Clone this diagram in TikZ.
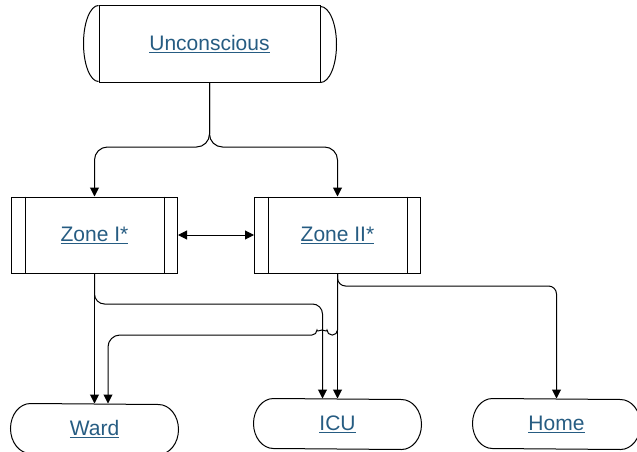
\documentclass[tikz,border=0pt]{standalone}
\usepackage{fontspec}
\setmainfont{Liberation Sans}
\usepackage{tikz}
\usetikzlibrary{arrows.meta}
\definecolor{linkblue}{RGB}{38,92,130}
\newcommand{\linktext}[1]{\textcolor{linkblue}{$\underline{\hbox{#1}}$}}

\begin{document}
\begin{tikzpicture}[
  x=1pt, y=-1pt, line width=1pt,
  every node/.style={font=\fontsize{21}{25}\selectfont, inner sep=0pt},
  store/.style={draw, minimum width=221pt, minimum height=76pt},
  zone/.style={draw, minimum width=166pt, minimum height=76pt},
  term/.style={minimum width=127pt, minimum height=50pt},
  arr/.style={-{Triangle[length=9pt, width=9pt]}},
  dblarr/.style={{Triangle[length=9pt, width=9pt]}-{Triangle[length=9pt, width=9pt]}},
]
\useasboundingbox (0,0) rectangle (637,452);

% starting state
\node[store] (unc) at (209.5,44) {\linktext{Unconscious}};
\draw (unc.north west) arc[start angle=90, end angle=270, x radius=15pt, y radius=38pt];
\draw (unc.south east) arc[start angle=-90, end angle=90, x radius=16pt, y radius=38pt];

% zones
\node[zone] (z1) at (94.5,235)  {\linktext{Zone I*}};
\node[zone] (z2) at (337.5,235) {\linktext{Zone II*}};
\foreach \z in {z1,z2} {
  \draw ([xshift=14pt]\z.north west) -- ([xshift=14pt]\z.south west);
  \draw ([xshift=-14pt]\z.north east) -- ([xshift=-14pt]\z.south east);
}

% outcomes
\node[term] (ward) at (94.5,429)  {\linktext{Ward}};
\node[term] (icu)  at (337.5,424) {\linktext{ICU}};
\node[term] (home) at (556.5,424) {\linktext{Home}};
\foreach \t in {ward,icu,home} {
  \draw (\t.north west) arc[start angle=90, end angle=270, x radius=20pt, y radius=25pt]
    -- (\t.south east) arc[start angle=-90, end angle=90, x radius=20pt, y radius=25pt]
    -- cycle;
}

% split into the zones
\coordinate (split) at (209.5,147);
\draw[arr, rounded corners=13pt] (unc.south) -- (split) -| (z1.north);
\draw[arr, rounded corners=13pt] (unc.south) -- (split) -| (z2.north);
\draw[dblarr] (z1.east) -- (z2.west);

% from zone I
\coordinate (z1turn) at (94.5,304);
\draw[arr] (z1.south) -- (ward.north);
\draw[arr, rounded corners=10pt] (z1.south) -- (z1turn) -| ([xshift=-15pt]icu.north);

% from zone II
\coordinate (z2home) at (337.5,286);
\coordinate (z2ward) at (337.5,335);
\coordinate (hop) at (327,335);
\coordinate (wardturn) at (108,335);
\draw[arr] (z2.south) -- (icu.north);
\draw[arr, rounded corners=8pt] (z2.south) -- (z2home) -| (home.north);
\draw[arr, rounded corners=5pt] (z2.south) -- (z2ward) -- (hop)
  arc[start angle=0, end angle=180, radius=5pt]
  [rounded corners=12pt] -- (wardturn) -- ([xshift=13.5pt]ward.north);
\end{tikzpicture}
\end{document}
